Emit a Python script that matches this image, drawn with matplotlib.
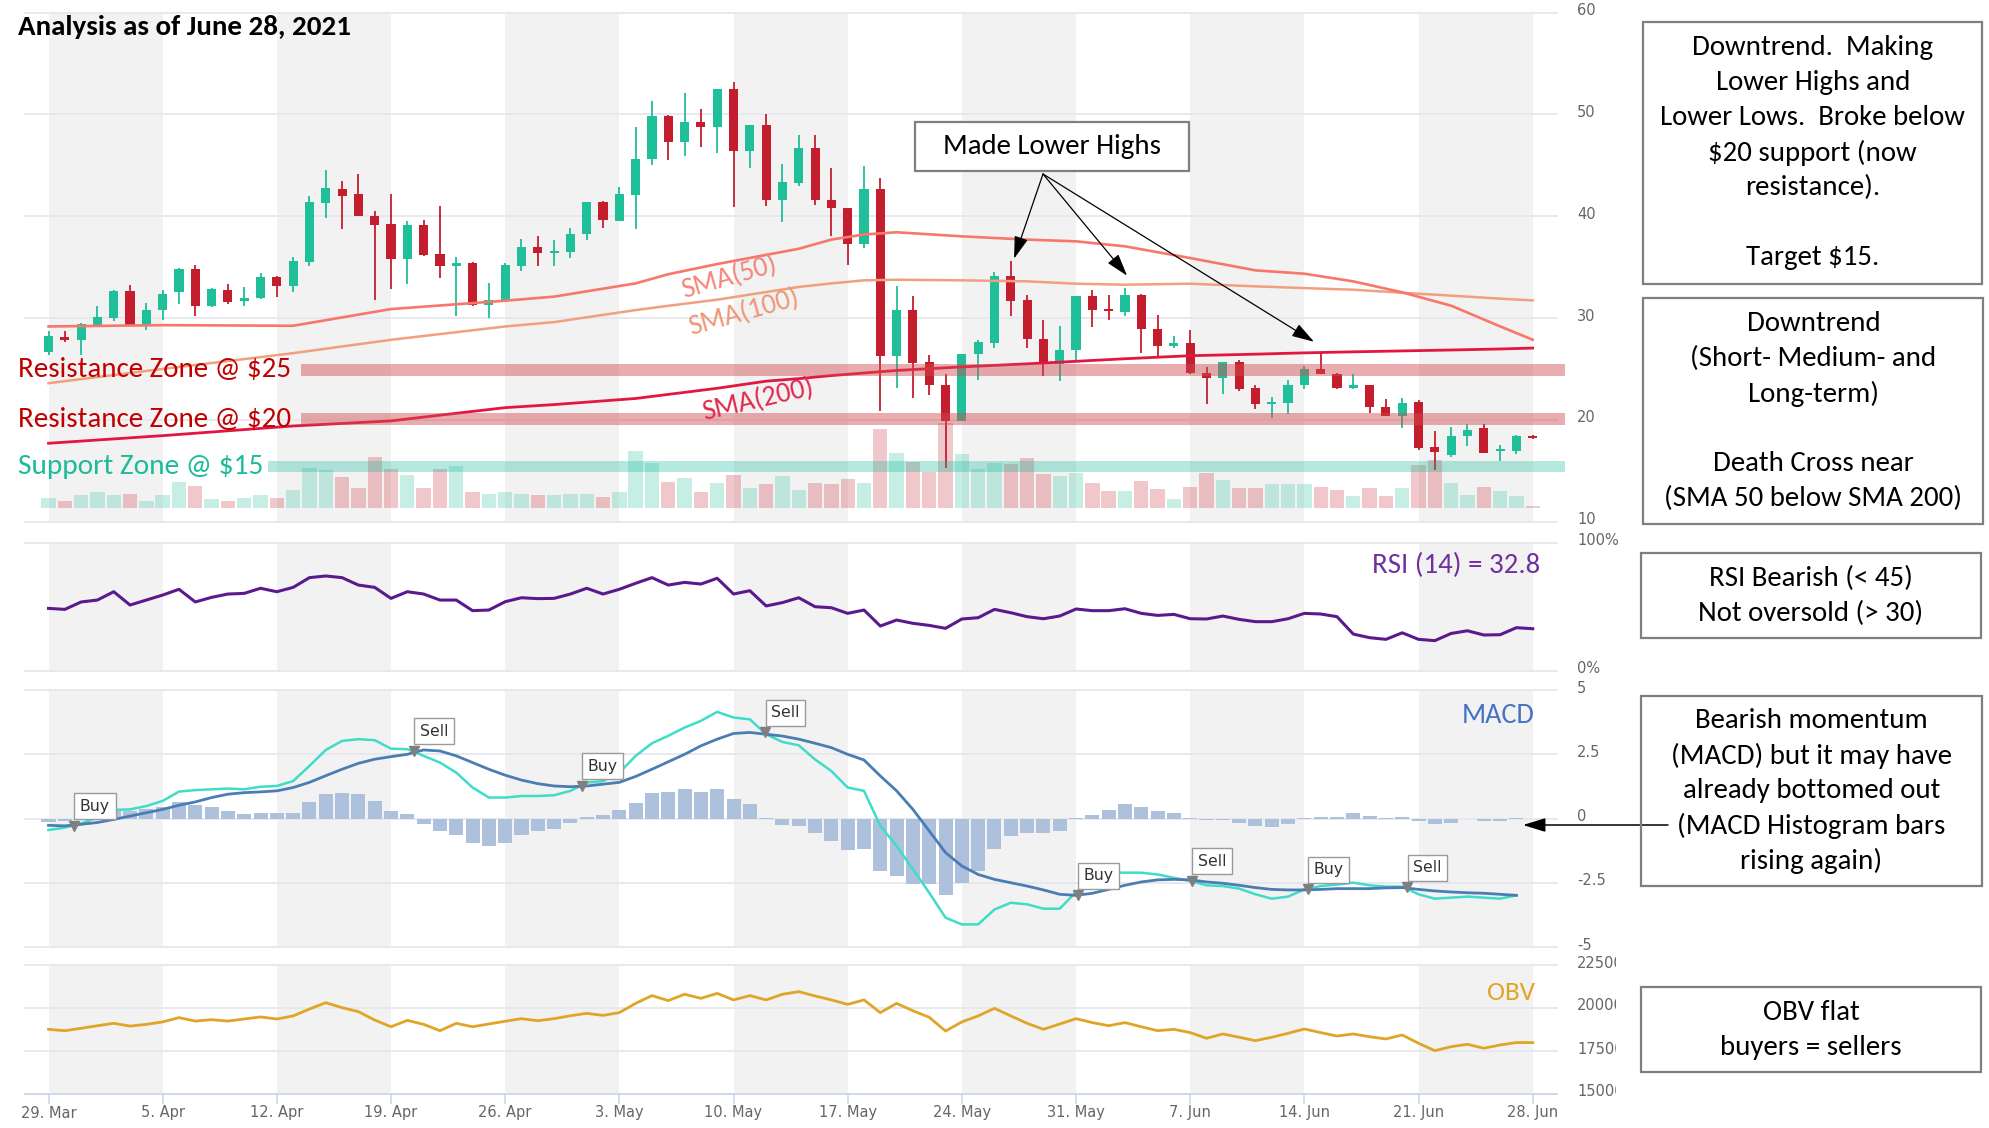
import numpy as np
import matplotlib
matplotlib.use("Agg")
import matplotlib.pyplot as plt
import matplotlib.transforms as mtransforms
from matplotlib.patches import Rectangle
from matplotlib import font_manager as fm

# ---------------------------------------------------------------- data
week_labels = ["29. Mar", "5. Apr", "12. Apr", "19. Apr", "26. Apr", "3. May", "10. May",
               "17. May", "24. May", "31. May", "7. Jun", "14. Jun", "21. Jun", "28. Jun"]

opens = [26.62, 28.12, 27.80, 29.34, 29.99, 32.61, 29.24, 30.75, 32.52, 34.81,
         31.14, 32.78, 31.63, 31.96, 34.02, 33.11, 35.53, 41.30, 42.68, 42.18,
         40.05, 39.24, 35.79, 39.10, 36.32, 35.14, 35.40, 31.30, 31.63, 35.14,
         36.94, 36.38, 36.45, 38.25, 41.37, 39.50, 42.12, 45.63, 49.79, 47.26,
         49.26, 48.77, 52.51, 46.38, 49.00, 41.56, 43.27, 46.71, 41.63, 40.81,
         37.30, 42.68, 26.29, 30.81, 25.73, 23.44, 19.90, 26.49, 27.54, 34.09,
         31.73, 27.93, 25.50, 26.82, 32.12, 30.88, 30.59, 32.29, 28.91, 27.21,
         27.54, 24.65, 24.10, 25.73, 23.11, 21.57, 21.70, 23.44, 24.98, 24.52,
         23.11, 23.44, 21.24, 20.33, 21.80, 17.38, 16.56, 18.42, 19.18, 16.98,
         16.98, 18.42]
highs = [28.68, 28.68, 29.50, 31.20, 32.78, 33.27, 31.47, 32.71, 34.91, 35.24,
         32.94, 33.34, 33.04, 34.42, 34.15, 36.00, 42.02, 44.51, 43.43, 44.18,
         40.48, 42.22, 39.50, 39.66, 41.04, 35.96, 35.50, 33.43, 35.40, 37.76,
         38.09, 37.63, 38.81, 41.40, 41.47, 42.87, 48.77, 51.30, 49.95, 52.05,
         50.48, 52.51, 53.16, 49.00, 50.08, 45.13, 48.02, 48.02, 44.74, 40.81,
         44.90, 43.76, 33.17, 32.12, 26.39, 24.52, 26.49, 27.80, 34.48, 35.56,
         32.29, 29.76, 29.17, 32.19, 32.71, 32.29, 32.94, 32.39, 30.32, 28.26,
         28.85, 25.18, 25.73, 25.90, 23.44, 22.29, 23.93, 25.31, 26.55, 24.65,
         24.52, 23.44, 22.03, 22.13, 21.97, 18.95, 19.34, 19.61, 19.61, 17.54,
         18.52, 18.52]
lows = [26.39, 27.60, 26.39, 29.17, 29.66, 29.24, 28.84, 29.76, 31.37, 30.22,
        31.07, 31.37, 31.14, 31.86, 32.02, 32.52, 35.14, 39.82, 38.74, 39.99,
        31.79, 32.84, 33.37, 36.12, 33.92, 30.16, 31.20, 29.99, 31.57, 34.58,
        35.07, 35.07, 35.89, 37.69, 38.84, 39.50, 38.74, 45.00, 45.56, 45.95,
        46.81, 46.22, 40.91, 44.74, 40.97, 39.40, 43.00, 41.14, 38.02, 35.24,
        36.87, 20.91, 23.11, 22.13, 22.45, 15.24, 19.90, 23.93, 27.04, 30.16,
        27.04, 24.33, 23.77, 25.83, 29.11, 29.76, 30.16, 26.55, 26.23, 27.04,
        24.52, 21.57, 22.55, 22.88, 21.05, 20.16, 20.59, 23.01, 24.52, 23.01,
        23.01, 20.72, 20.33, 19.18, 17.05, 15.08, 16.33, 17.44, 16.79, 16.00,
        16.65, 18.09]
closes = [28.19, 27.80, 29.43, 30.09, 32.61, 29.24, 30.81, 32.38, 34.81, 31.14,
          32.84, 31.53, 31.96, 33.99, 33.11, 35.63, 41.37, 42.74, 41.96, 39.99,
          39.17, 35.79, 39.10, 36.22, 35.14, 35.40, 31.24, 31.73, 35.24, 36.94,
          36.38, 36.55, 38.28, 41.37, 39.66, 42.15, 45.66, 49.79, 47.26, 49.26,
          48.77, 52.51, 46.38, 49.00, 41.56, 43.33, 46.71, 41.56, 40.81, 37.30,
          42.68, 26.29, 30.81, 25.63, 23.44, 19.90, 26.49, 27.60, 34.16, 31.63,
          27.93, 25.50, 26.88, 32.12, 30.75, 30.72, 32.22, 28.91, 27.21, 27.54,
          24.59, 24.10, 25.73, 23.01, 21.57, 21.70, 23.44, 24.98, 24.52, 23.11,
          23.44, 21.24, 20.33, 21.70, 17.21, 16.88, 18.42, 19.02, 16.79, 17.11,
          18.42, 18.19]
volume = [10, 7, 12.7, 16, 12.7, 13.7, 7, 12.7, 26, 22,
          8.3, 7, 10, 12.7, 10, 17.7, 40, 37.7, 30.3, 19.3,
          51, 38.3, 32.7, 19.3, 38.3, 41.7, 16, 13.7, 16, 13.7,
          12.7, 12.7, 13.7, 13.7, 11, 16, 57, 45, 26, 30,
          16, 25, 32.7, 19.3, 23.3, 31.7, 17.7, 25, 23.3, 28.3,
          25, 78.3, 54.3, 46, 36, 85, 53.3, 38.7, 45, 43.3,
          49.3, 33.3, 31.7, 34.3, 25, 16.7, 16.7, 26.7, 18.3, 8.7,
          21, 34.3, 27.7, 19.3, 19.3, 23.3, 23.3, 23.3, 21, 17.7,
          11.7, 19.3, 11.7, 19.3, 42.7, 47.7, 25, 12.7, 21, 16.7,
          11.7, 1.7]

sma_days = [0, 7, 15, 21, 28, 31, 36, 38, 41, 44, 46, 48, 50, 52, 56, 60, 63, 66, 70, 74,
            77, 80, 83, 86, 89, 91]
sma50 = [29.17, 29.30, 29.24, 30.88, 31.70, 32.10, 33.40, 34.30, 35.30, 36.20, 36.80, 37.70,
         38.20, 38.42, 38.02, 37.70, 37.53, 37.04, 35.89, 34.68, 34.35, 33.60, 32.52, 31.21,
         29.18, 27.87]
sma100 = [23.60, 25.00, 26.55, 27.86, 29.17, 29.60, 30.78, 31.20, 31.80, 32.55, 33.05, 33.40,
          33.70, 33.76, 33.70, 33.60, 33.37, 33.27, 33.37, 33.11, 32.94, 32.78, 32.48, 32.20,
          31.90, 31.73]
sma200 = [17.70, 18.45, 19.40, 19.90, 21.20, 21.50, 22.10, 22.50, 23.10, 23.80, 24.05, 24.35,
          24.60, 24.85, 25.20, 25.50, 25.75, 26.00, 26.30, 26.45, 26.58, 26.68, 26.77, 26.86,
          26.96, 27.05]

zone_low = [24.33, 19.50, 14.86]
zone_high = [25.50, 20.66, 16.00]
zone_names = ["Resistance Zone @ $25", "Resistance Zone @ $20", "Support Zone @ $15"]

rsi = [48.7, 47.9, 53.7, 55.2, 61.7, 51.3, 55.2, 59.1, 63.6, 53.7,
       57.3, 59.9, 60.4, 64.4, 61.7, 65.1, 72.7, 74.0, 72.7, 66.9,
       65.1, 56.5, 61.7, 59.9, 55.2, 55.2, 46.9, 47.4, 53.9, 57.0,
       56.3, 56.5, 59.9, 64.4, 59.9, 63.6, 68.3, 72.7, 66.9, 69.0,
       67.7, 72.2, 59.9, 62.5, 50.6, 53.2, 57.0, 50.0, 49.2, 44.8,
       47.4, 34.9, 39.6, 37.0, 35.4, 33.1, 40.4, 41.4, 47.9, 45.3,
       42.2, 40.6, 42.7, 48.2, 46.9, 46.9, 48.4, 44.8, 43.2, 44.0,
       40.6, 40.4, 42.7, 40.1, 38.3, 38.3, 40.6, 44.8, 44.3, 42.2,
       28.6, 25.8, 24.5, 29.6, 24.5, 23.5, 29.1, 31.2, 27.9, 28.1,
       33.6, 32.8]

macd_line = [-0.44, -0.35, -0.19, 0.04, 0.34, 0.36, 0.49, 0.69, 1.05, 1.11,
             1.14, 1.17, 1.14, 1.24, 1.27, 1.46, 2.05, 2.67, 3.02, 3.09,
             3.05, 2.72, 2.70, 2.44, 2.18, 1.79, 1.21, 0.82, 0.82, 0.88,
             0.88, 0.91, 1.08, 1.40, 1.46, 1.79, 2.44, 2.93, 3.22, 3.54,
             3.80, 4.15, 3.93, 3.86, 3.28, 2.98, 2.85, 2.30, 1.85, 1.21,
             1.08, -0.28, -1.06, -1.97, -2.88, -3.85, -4.11, -4.11, -3.53, -3.27,
             -3.33, -3.50, -3.50, -2.85, -2.42, -2.10, -2.10, -2.10, -2.17, -2.30,
             -2.42, -2.59, -2.62, -2.72, -2.94, -3.11, -3.03, -2.75, -2.62, -2.56,
             -2.49, -2.59, -2.64, -2.64, -2.94, -3.11, -3.07, -3.03, -3.07, -3.11,
             -2.98]
macd_signal = [-0.26, -0.28, -0.22, -0.15, -0.03, 0.10, 0.23, 0.36, 0.52, 0.65,
               0.82, 0.95, 1.01, 1.04, 1.08, 1.21, 1.41, 1.67, 1.92, 2.15,
               2.31, 2.41, 2.50, 2.67, 2.63, 2.44, 2.18, 1.92, 1.69, 1.50,
               1.36, 1.27, 1.24, 1.27, 1.34, 1.41, 1.64, 1.92, 2.21, 2.50,
               2.83, 3.09, 3.31, 3.35, 3.28, 3.21, 3.09, 2.93, 2.76, 2.50,
               2.28, 1.66, 1.08, 0.36, -0.48, -1.32, -1.84, -2.17, -2.36, -2.49,
               -2.62, -2.77, -2.94, -2.98, -2.90, -2.75, -2.59, -2.46, -2.38, -2.36,
               -2.38, -2.46, -2.51, -2.59, -2.68, -2.75, -2.77, -2.77, -2.75, -2.72,
               -2.72, -2.72, -2.69, -2.68, -2.75, -2.81, -2.85, -2.88, -2.90, -2.94,
               -2.98]
macd_hist = [-0.13, -0.08, 0.03, 0.19, 0.34, 0.30, 0.36, 0.45, 0.65, 0.52,
             0.45, 0.30, 0.17, 0.23, 0.23, 0.23, 0.65, 0.97, 1.01, 0.95,
             0.69, 0.30, 0.17, -0.22, -0.49, -0.65, -0.93, -1.06, -0.93, -0.65,
             -0.49, -0.39, -0.18, 0.08, 0.13, 0.34, 0.60, 1.01, 1.05, 1.14,
             1.05, 1.14, 0.75, 0.58, 0.04, -0.26, -0.29, -0.57, -0.87, -1.22,
             -1.17, -2.03, -2.23, -2.55, -2.55, -2.98, -2.49, -2.03, -1.17, -0.67,
             -0.57, -0.57, -0.48, 0.02, 0.16, 0.34, 0.56, 0.47, 0.30, 0.21,
             0.02, -0.05, -0.05, -0.18, -0.29, -0.31, -0.22, 0.03, 0.08, 0.08,
             0.21, 0.10, 0.02, 0.08, -0.10, -0.22, -0.18, -0.03, -0.10, -0.10,
             0.02]
flag_days = [1.56, 22.4, 32.7, 43.95, 63.1, 70.1, 77.2, 83.3]
flag_vals = [-0.27, 2.63, 1.27, 3.35, -2.98, -2.42, -2.75, -2.66]
flag_labels = ["Buy", "Sell", "Buy", "Sell", "Buy", "Sell", "Buy", "Sell"]

obv = [1876, 1868, 1882, 1897, 1911, 1895, 1905, 1919, 1944, 1924,
       1932, 1924, 1936, 1948, 1936, 1954, 1994, 2031, 2002, 1979,
       1930, 1891, 1928, 1905, 1868, 1911, 1891, 1907, 1923, 1938,
       1926, 1938, 1955, 1969, 1957, 1973, 2027, 2072, 2043, 2080,
       2056, 2085, 2047, 2072, 2047, 2080, 2095, 2070, 2047, 2021,
       2047, 1973, 2027, 1984, 1946, 1866, 1919, 1954, 1998, 1954,
       1911, 1876, 1907, 1938, 1915, 1897, 1915, 1891, 1868, 1876,
       1857, 1824, 1849, 1830, 1810, 1830, 1853, 1878, 1857, 1837,
       1849, 1833, 1820, 1843, 1795, 1752, 1775, 1789, 1766, 1785,
       1799, 1799]

price_ticks = [10, 20, 30, 40, 50, 60]
macd_ticks = [-5, -2.5, 0, 2.5, 5]
obv_ticks = [1500, 1750, 2000, 2250]

box_texts = [
    ["Downtrend.  Making", "Lower Highs and", "Lower Lows.  Broke below", "$20 support (now",
     "resistance).", "", "Target $15."],
    ["Downtrend", "(Short- Medium- and", "Long-term)", "", "Death Cross near",
     "(SMA 50 below SMA 200)"],
    ["RSI Bearish (< 45)", "Not oversold (> 30)"],
    ["Bearish momentum", "(MACD) but it may have", "already bottomed out",
     "(MACD Histogram bars", "rising again)"],
    ["OBV flat", "buyers = sellers"],
]

# ---------------------------------------------------------------- layout
W, H, DPI = 1990, 1128, 100
names = {f.name for f in fm.fontManager.ttflist}
BODY = next((n for n in ["Carlito", "Lato", "Open Sans"] if n in names), "DejaVu Sans")
AXF = "DejaVu Sans"

GREEN = "#1fbf9a"
RED = "#c41e2e"
BANDC = "#f2f2f2"
GRID = "#e6e6ee"
TICKC = "#666666"

fig = plt.figure(figsize=(W / DPI, H / DPI), dpi=DPI)
fig.patch.set_facecolor("white")


def frect(x0, y0, x1, y1):
    return [x0 / W, 1 - y1 / H, (x1 - x0) / W, (y1 - y0) / H]


L, R = 25, 1557
D0, DW = 48.5, 16.31
XL = ((L - D0) / DW, (R - D0) / DW)

ax_vol = fig.add_axes(frect(L, 12.5, R, 521.7), zorder=1)
ax_p = fig.add_axes(frect(L, 12.5, R, 521.7), zorder=2)
ax_rsi = fig.add_axes(frect(L, 542.7, R, 670.7), zorder=1)
ax_macd = fig.add_axes(frect(L, 690, R, 947.3), zorder=1)
ax_obv = fig.add_axes(frect(L, 965, R, 1094), zorder=1)

days = np.arange(len(closes))
o = np.array(opens); c = np.array(closes); hi = np.array(highs); lo = np.array(lows)
up = c >= o

for ax in (ax_vol, ax_p, ax_rsi, ax_macd, ax_obv):
    ax.set_xlim(*XL)
    ax.set_axis_off()

for ax in (ax_vol, ax_rsi, ax_macd, ax_obv):
    for k in range(0, len(week_labels) - 1, 2):
        ax.axvspan(7 * k, 7 * (k + 1), color=BANDC, lw=0, zorder=0)

# price panel
ax_p.set_ylim(price_ticks[0], price_ticks[-1])
gt = mtransforms.blended_transform_factory(ax_vol.transAxes, ax_p.transData)
for v in price_ticks:
    ax_vol.plot([0, 1], [v, v], transform=gt, color=GRID, lw=1.3, zorder=0.5, clip_on=False)

ax_vol.set_ylim(-14, 495.2)
vcols = [(0.12, 0.75, 0.60, 0.25) if u else (0.78, 0.13, 0.18, 0.25) for u in up]
ax_vol.bar(days, volume, width=0.88, color=vcols, lw=0, zorder=1)

ccols = [GREEN if u else RED for u in up]
ax_p.vlines(days, lo, hi, colors=ccols, lw=1.3, zorder=3)
ax_p.bar(days, np.maximum(np.abs(c - o), 0.15), bottom=np.minimum(o, c), width=0.56,
         color=ccols, lw=0, zorder=4)

ax_p.plot(sma_days, sma100, color="#f0a07e", lw=1.8, zorder=5, solid_joinstyle="round")
ax_p.plot(sma_days, sma50, color="#f8766a", lw=1.9, zorder=5, solid_joinstyle="round")
ax_p.plot(sma_days, sma200, color="#e3163f", lw=2.0, zorder=5, solid_joinstyle="round")

zt = mtransforms.blended_transform_factory(fig.transFigure, ax_p.transData)
zone_styles = [("#d04a50", 0.45, "#c00000", 301), ("#d04a50", 0.45, "#c00000", 301),
               ("#1abc9c", 0.32, "#1bbc9b", 268)]
fit_list = []
for zl, zh, name, (fc, al, tc, x0) in zip(zone_low, zone_high, zone_names, zone_styles):
    ax_p.add_patch(Rectangle((x0 / W, zl), (1565 - x0) / W, zh - zl, transform=zt,
                             facecolor=fc, alpha=al, lw=0, zorder=6, clip_on=False))
    t = ax_p.text(18 / W, (zl + zh) / 2, name, transform=zt, ha="left", va="center",
                  color=tc, family=BODY, fontsize=18, zorder=7, clip_on=False)
    fit_list.append((t, 273 if "Resistance" in name else 246, 0))

for label, d, p, rot, col, w in [("SMA(50)", 41.72, 33.96, 16, "#f4867a", 98),
                                 ("SMA(100)", 42.61, 30.57, 15.6, "#ee9877", 114),
                                 ("SMA(200)", 43.5, 21.97, 13, "#e2284e", 114)]:
    t = ax_p.text(d, p, label, ha="center", va="center", color=col, family=BODY,
                  fontsize=15, zorder=7, clip_on=False, rotation_mode="anchor")
    fit_list.append((t, w, rot))

# RSI panel
ax_rsi.set_ylim(0, 100)
for v in (0, 100):
    ax_rsi.axhline(v, color=GRID, lw=1.3, zorder=0.5, clip_on=False)
ax_rsi.plot(days, rsi, color="#5a1a8e", lw=2.2, zorder=3)

# MACD panel
ax_macd.set_ylim(macd_ticks[0], macd_ticks[-1])
for v in macd_ticks:
    ax_macd.axhline(v, color=GRID, lw=1.3, zorder=0.5, clip_on=False)
mdays = np.arange(len(macd_line))
ax_macd.bar(mdays, macd_hist, width=0.86, color="#adc1dd", lw=0, zorder=2)
ax_macd.plot(mdays, macd_line, color="#3fdcc8", lw=1.8, zorder=3)
ax_macd.plot(mdays, macd_signal, color="#4a7db3", lw=2.0, zorder=3)
ax_macd.plot(flag_days, flag_vals, "v", color="#7f7f7f", ms=7, zorder=6, clip_on=False)
flag_texts = []
for d, v, s in zip(flag_days, flag_vals, flag_labels):
    t = ax_macd.annotate(s, xy=(d, v), xytext=(6, 12), textcoords="offset pixels",
                         ha="left", va="bottom", fontsize=11, family=AXF, color="#333333",
                         bbox=dict(boxstyle="square,pad=0.35", fc="white", ec="#9a9a9a", lw=1.0),
                         zorder=7, annotation_clip=False)
    flag_texts.append(t)

# OBV panel
ax_obv.set_ylim(obv_ticks[0], obv_ticks[-1])
for v in obv_ticks:
    ax_obv.axhline(v, color="#ccd6eb" if v == obv_ticks[0] else GRID, lw=1.3, zorder=0.5,
                   clip_on=False)
ax_obv.plot(days, obv, color="#e0a526", lw=2.0, zorder=3)


# axis labels
def ylabel(ax, v, s, clip=None):
    tr = mtransforms.offset_copy(mtransforms.blended_transform_factory(fig.transFigure, ax.transData),
                                 fig=fig, x=0, y=2, units="dots")
    t = fig.text(1577 / W, v, s, transform=tr, ha="left", va="center", fontsize=10.5,
                 color=TICKC, family=AXF)
    if clip is not None:
        t.set_clip_on(True)
        t.set_clip_box(clip)
    return t


for v in price_ticks:
    ylabel(ax_p, v, f"{v}")
ylabel(ax_rsi, 100, "100%")
ylabel(ax_rsi, 0, "0%")
for v in macd_ticks:
    ylabel(ax_macd, v, f"{v:g}")
obv_clip = mtransforms.Bbox.from_extents(1570, 0, 1616, H)
for v in obv_ticks:
    ylabel(ax_obv, v, f"{v * 10}", clip=obv_clip)

xt = mtransforms.blended_transform_factory(ax_obv.transData, fig.transFigure)
for k, lab in enumerate(week_labels):
    fig.text(7 * k, 1 - 1113 / H, lab, transform=xt, ha="center", va="center",
             fontsize=10.5, color=TICKC, family=AXF)
    ax_obv.plot([7 * k, 7 * k], [1 - 1094 / H, 1 - 1103 / H], transform=xt, color="#ccd6eb",
                lw=1.2, clip_on=False)

# panel titles
t = fig.text(1540 / W, 1 - 565 / H, f"RSI (14) = {rsi[-1]}", ha="right", va="center",
             color="#7030a0", family=BODY, fontsize=16)
fit_list.append((t, 168, 0))
t = fig.text(1535 / W, 1 - 715.5 / H, "MACD", ha="right", va="center", color="#4472c4",
             family=BODY, fontsize=16)
fit_list.append((t, 73, 0))
t = fig.text(1535 / W, 1 - 993 / H, "OBV", ha="right", va="center", color="#e0a526",
             family=BODY, fontsize=16)
fit_list.append((t, 48, 0))

t = fig.text(18 / W, 1 - 26.6 / H, "Analysis as of June 28, 2021", ha="left", va="center",
             fontweight="bold", family=BODY, fontsize=18, color="black")
fit_list.append((t, 333, 0))


# annotation boxes
def fig_box(x0, y0, x1, y1, fill=False):
    fig.add_artist(Rectangle((x0 / W, 1 - y1 / H), (x1 - x0) / W, (y1 - y0) / H,
                             transform=fig.transFigure, fill=fill, facecolor="white",
                             edgecolor="#7f7f7f", lw=1.6, zorder=10))


box_rects = [(1643.5, 21.6, 1982, 284), (1643.5, 298, 1983.5, 524), (1641, 553, 1981, 638),
             (1641, 695.5, 1982, 886), (1641, 987, 1981, 1072)]
box_line_objs = []
for (x0, y0, x1, y1), lines in zip(box_rects, box_texts):
    fig_box(x0, y0, x1, y1)
    yc = (y0 + y1) / 2
    n = len(lines)
    for k, s in enumerate(lines):
        yy = yc + (k - (n - 1) / 2) * 35.0
        tt = fig.text((x0 + x1) / 2 / W, 1 - yy / H, s, ha="center", va="center",
                      family=BODY, fontsize=18, color="black", zorder=11)
        box_line_objs.append(tt)

fig_box(915, 122, 1189, 171, fill=True)
mlh = fig.text(1052 / W, 1 - 146.5 / H, "Made Lower Highs", ha="center", va="center",
               family=BODY, fontsize=18, color="black", zorder=11)
box_line_objs.append(mlh)

arrow_kw = dict(arrowstyle="-|>,head_length=0.55,head_width=0.17", color="black", lw=0.9,
                mutation_scale=25, shrinkA=0, shrinkB=0)
for d, p in [(59.2, 35.83), (66.13, 34.16), (77.59, 27.67)]:
    ax_p.annotate("", xy=(d, p), xycoords="data", xytext=(1043, H - 174),
                  textcoords="figure pixels", arrowprops=arrow_kw, annotation_clip=False,
                  zorder=9)
ax_macd.annotate("", xy=(1523, H - 825), xycoords="figure pixels", xytext=(1668, H - 825),
                 textcoords="figure pixels", arrowprops=dict(arrow_kw, lw=1.1),
                 annotation_clip=False, zorder=9)

# ---------------------------------------------------------------- fit text sizes
r = fig.canvas.get_renderer()


def width_of(t):
    return t.get_window_extent(renderer=r).width


ref = box_line_objs[2]
scale = 305 / width_of(ref)
for tt in box_line_objs:
    tt.set_fontsize(tt.get_fontsize() * scale)
for t, w, rot in fit_list:
    t.set_fontsize(t.get_fontsize() * w / width_of(t))
    if rot:
        t.set_rotation(rot)
f0 = flag_texts[0]
fs = f0.get_fontsize() * 30 / width_of(f0)
for t in flag_texts:
    t.set_fontsize(fs)

fig.savefig("out.png", dpi=DPI)
